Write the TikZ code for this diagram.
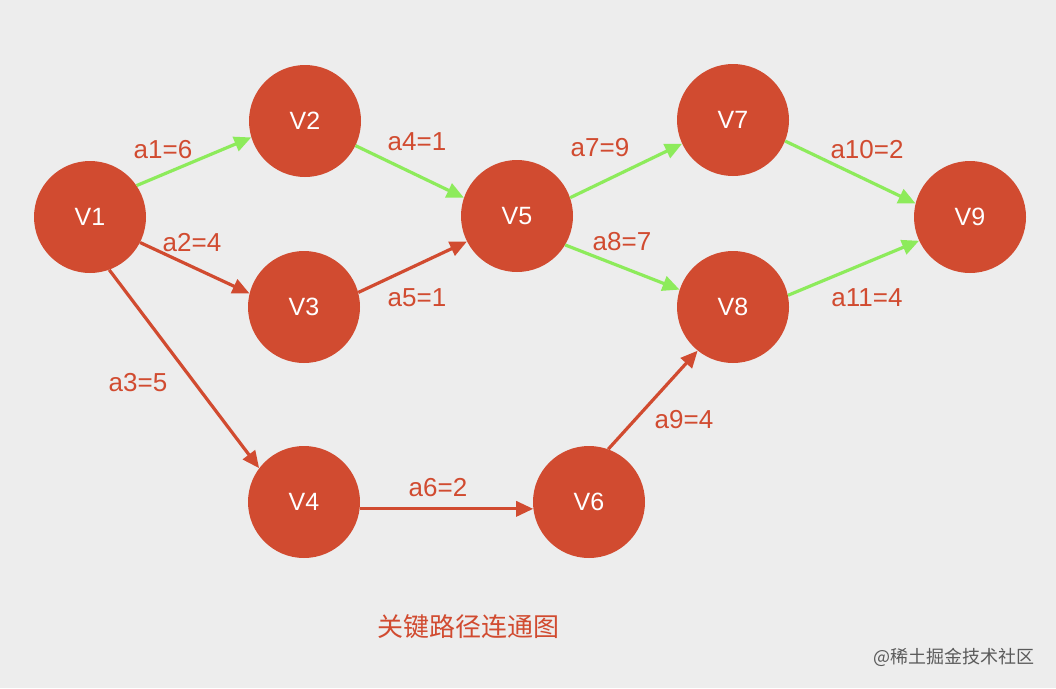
\documentclass[tikz,border=0pt]{standalone}
\usepackage{fontspec}
\setmainfont{Liberation Sans}
\newfontfamily\cjk{Noto Sans CJK SC}
\usetikzlibrary{arrows.meta}
\definecolor{vred}{HTML}{D14B30}
\definecolor{pgreen}{HTML}{8DEB5B}
\definecolor{bggray}{HTML}{EDEDED}
\definecolor{markgray}{HTML}{5A5A5A}

\begin{document}
\begin{tikzpicture}[x=10pt,y=10pt,
		vertex/.style={circle,fill=vred,minimum size=112pt,inner sep=0pt,text=white,font=\fontsize{25}{30}\selectfont},
		edge/.style={line width=3.2pt,draw=vred,-{Triangle[length=17pt,width=15pt]}},
		crit/.style={edge,draw=pgreen},
		wlabel/.style={inner sep=0pt,text=vred,font=\fontsize{26}{30}\selectfont}]
		\fill [bggray] (0,0) rectangle (105.6,-68.8);
		\useasboundingbox (0,0) rectangle (105.6,-68.8);
		% vertices
		\node [vertex] (V1) at (9.0,-21.7) {V1};
		\node [vertex] (V2) at (30.5,-12.1) {V2};
		\node [vertex] (V3) at (30.4,-30.7) {V3};
		\node [vertex] (V4) at (30.4,-50.2) {V4};
		\node [vertex] (V5) at (51.7,-21.6) {V5};
		\node [vertex] (V6) at (58.9,-50.2) {V6};
		\node [vertex] (V7) at (73.3,-12.0) {V7};
		\node [vertex] (V8) at (73.3,-30.7) {V8};
		\node [vertex] (V9) at (97.0,-21.7) {V9};
		% activities
		\draw [crit] (V1.34) -- (V2.197);
		\draw [edge] (V1.-27) -- (V3.166);
		\draw [edge] (V1.-70) -- (V4.143);
		\draw [crit] (V2.-26) -- (V5.161);
		\draw [edge] (V3.15) -- (V5.207);
		\draw [edge] (V4.-7) -- (V6.187);
		\draw [crit] (V5.19) -- (V7.205);
		\draw [crit] (V5.-31) -- (V8.162);
		\draw [edge] (V6.70) -- (V8.231);
		\draw [crit] (V7.-22) -- (V9.166);
		\draw [crit] (V8.12) -- (V9.205);
		% weights
		\node [wlabel] (a1) at (16.3,-15.0) {a1=6};
		\node [wlabel] (a2) at (19.2,-24.3) {a2=4};
		\node [wlabel] (a3) at (13.8,-38.3) {a3=5};
		\node [wlabel] (a4) at (41.7,-14.2) {a4=1};
		\node [wlabel] (a5) at (41.7,-29.8) {a5=1};
		\node [wlabel] (a6) at (43.8,-48.8) {a6=2};
		\node [wlabel] (a7) at (60.0,-14.8) {a7=9};
		\node [wlabel] (a8) at (62.2,-24.2) {a8=7};
		\node [wlabel] (a9) at (68.4,-42.0) {a9=4};
		\node [wlabel] (a10) at (86.7,-15.0) {a10=2};
		\node [wlabel] (a11) at (86.7,-29.8) {a11=4};
		% caption
		\node [inner sep=0pt,text=vred,font=\cjk\fontsize{26}{30}\selectfont] (title) at (46.8,-62.7) {关键路径连通图};
		\node [inner sep=0pt,text=markgray,font=\cjk\fontsize{18}{22}\selectfont] (mark) at (95.4,-65.7) {@稀土掘金技术社区};
		\end{tikzpicture}
\end{document}
